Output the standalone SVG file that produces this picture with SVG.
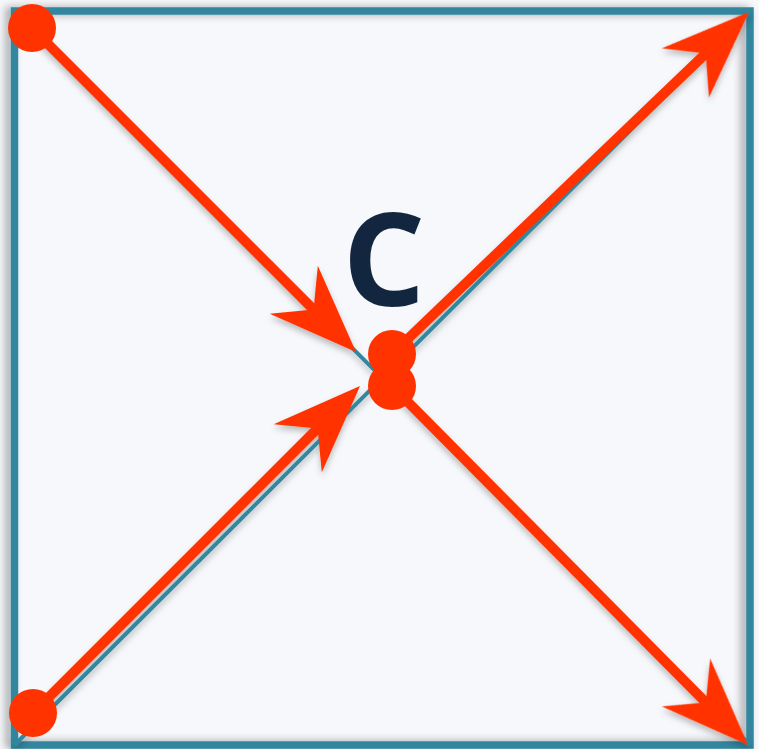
<svg xmlns="http://www.w3.org/2000/svg" width="759" height="749" viewBox="0 0 759 749">
  <style>
    .frame { fill: none; stroke: #33879f; stroke-width: 7.5; }
    .diag { stroke: #33879f; stroke-width: 4; fill: none; }
    .shaft { stroke: #ff3300; stroke-width: 10; fill: none; }
    .head { fill: #ff3300; }
    .dot { fill: #ff3300; }
    .label { font-family: "Open Sans", "Liberation Sans", sans-serif; font-weight: 700; font-size: 130px; fill: #12263f; }
  </style>
  <defs>
    <filter id="frameShadow" x="-10%" y="-10%" width="120%" height="120%">
      <feDropShadow dx="-5" dy="0" stdDeviation="4" flood-color="#000" flood-opacity="0.35"/>
    </filter>
    <filter id="lineShadow" x="-10%" y="-10%" width="120%" height="120%">
      <feDropShadow dx="0" dy="4" stdDeviation="3" flood-color="#000" flood-opacity="0.25"/>
    </filter>
    <path id="arrowhead" d="M0,0 L-88,-34 L-60,0 L-88,34 Z"/>
  </defs>

  <rect x="0" y="0" width="759" height="749" fill="#f6f8fb"/>

  <g id="square">
    <rect x="14.5" y="11" width="735.5" height="734" fill="#f6f8fb"/>
    <rect class="frame" x="14.5" y="11" width="735.5" height="734" filter="url(#frameShadow)"/>
  </g>

  <g id="connectors" filter="url(#lineShadow)">
    <line class="diag" x1="14.5" y1="11" x2="750" y2="745"/>
    <line class="diag" x1="14.5" y1="745" x2="750" y2="11"/>

    <line class="shaft" x1="32" y1="28" x2="317" y2="313"/>
    <use href="#arrowhead" class="head" transform="translate(356,352) rotate(45)"/>

    <line class="shaft" x1="33" y1="713" x2="321" y2="425"/>
    <use href="#arrowhead" class="head" transform="translate(360,386) rotate(-45)"/>

    <line class="shaft" x1="392" y1="354" x2="709.3" y2="50.1"/>
    <use href="#arrowhead" class="head" transform="translate(749,12) rotate(-43.77)"/>

    <line class="shaft" x1="392" y1="386" x2="709.3" y2="705.9"/>
    <use href="#arrowhead" class="head" transform="translate(748,745) rotate(45.24)"/>
  </g>

  <g id="node-start-top-left"><circle class="dot" cx="32" cy="28" r="24"/></g>
  <g id="node-start-bottom-left"><circle class="dot" cx="33" cy="713" r="24"/></g>
  <g id="node-center-upper"><circle class="dot" cx="392" cy="354" r="24"/></g>
  <g id="node-center-lower"><circle class="dot" cx="392" cy="386" r="24"/></g>

  <g id="label-c"><text class="label" x="384" y="306" text-anchor="middle">C</text></g>
</svg>
